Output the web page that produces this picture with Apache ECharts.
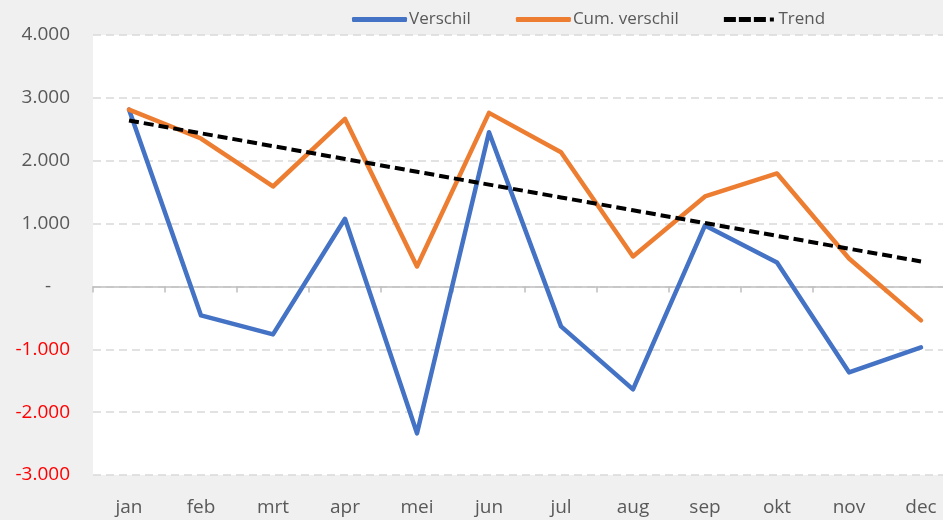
<!DOCTYPE html>
<html><head><meta charset="utf-8">
<script src="https://cdn.jsdelivr.net/npm/echarts@6/dist/echarts.min.js"></script>
<style>html,body{margin:0;padding:0;background:#f0f0f0;overflow:hidden;}#c{width:960px;height:520px;}</style>
</head><body><div id="c"></div>
<script>
const categories = ['jan','feb','mrt','apr','mei','jun','jul','aug','sep','okt','nov','dec'];
const verschil = [2814,-461,-763,1076,-2337,2453,-636,-1638,970,382,-1367,-970];
const cumVerschil = [2814,2353,1590,2665,318,2761,2135,477,1431,1797,445,-540];
const trend = [2640,2436,2232,2028,1824,1620,1416,1212,1008,804,600,397];
const yTicks = {min:-3000, max:4000, interval:1000};
const seriesNames = ['Verschil','Cum. verschil','Trend'];

const FONT = '"Open Sans", "Noto Sans", sans-serif';
function fmt(v){
  if (v === 0) return '-\u2002\u2002';
  const s = Math.abs(v).toString().replace(/\B(?=(\d{3})+(?!\d))/g, '.');
  return (v < 0 ? '-' : '') + s;
}
const dashIcon = 'path://M0,0h12v5h-12z M15,0h12v5h-12z M30,0h12v5h-12z M46,0.5h4v4h-4z';
const chart = echarts.init(document.getElementById('c'));
chart.setOption({
  backgroundColor: '#f0f0f0',
  animation: false,
  legend: {
    top: 6, left: 347,
    itemWidth: 55, itemHeight: 5, itemGap: 45,
    textStyle: {fontFamily: FONT, fontSize: 17, color: '#595959', padding:[0,0,0,-3]},
    data: [
      {name: seriesNames[0], icon: 'roundRect'},
      {name: seriesNames[1], icon: 'roundRect'},
      {name: seriesNames[2], icon: dashIcon}
    ]
  },
  grid: {left: 93, top: 35, width: 864, height: 440, show: true, backgroundColor: '#ffffff', borderWidth: 0, containLabel: false},
  xAxis: [{
    type: 'category', data: categories, position: 'bottom', boundaryGap: true,
    axisLine: {show: true, onZero: true, lineStyle: {color: '#bfbfbf', width: 1.5}},
    axisTick: {show: true, length: 6, lineStyle: {color: '#bfbfbf', width: 1.5}},
    axisLabel: {show: false}, splitLine: {show: false}
  },{
    type: 'category', data: categories, position: 'bottom', boundaryGap: true,
    axisLine: {show: false, onZero: false}, axisTick: {show: false},
    axisLabel: {show: true, margin: 23, fontFamily: FONT, fontSize: 19, color: '#595959'},
    splitLine: {show: false}
  }],
  yAxis: {
    type: 'value', min: yTicks.min, max: yTicks.max, interval: yTicks.interval,
    axisLine: {show: false}, axisTick: {show: false},
    axisLabel: {margin: 23, fontFamily: FONT, fontSize: 19,
      color: function(v){ return Number(v) < 0 ? '#ff0000' : '#595959'; },
      formatter: fmt},
    splitLine: {show: true, lineStyle: {color: '#d9d9d9', width: 1.5, type: [8,5]}}
  },
  series: [
    {name: seriesNames[0], type: 'line', data: verschil, symbol: 'none', color: '#4472c4',
     lineStyle: {width: 4.5, color: '#4472c4', cap: 'round', join: 'round'}, z: 3},
    {name: seriesNames[1], type: 'line', data: cumVerschil, symbol: 'none', color: '#ed7d31',
     lineStyle: {width: 4.5, color: '#ed7d31', cap: 'round', join: 'round'}, z: 4},
    {name: seriesNames[2], type: 'line', data: trend, symbol: 'none', color: '#000000',
     lineStyle: {width: 4, color: '#000000', type: [10,5]}, z: 5}
  ]
});
</script></body></html>
